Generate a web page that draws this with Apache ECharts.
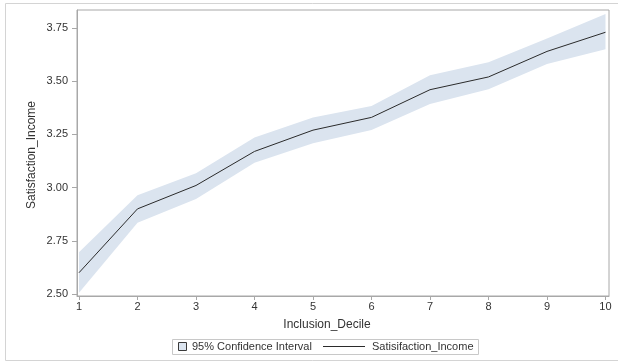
<!DOCTYPE html>
<html>
<head>
<meta charset="utf-8">
<script src="https://cdn.jsdelivr.net/npm/echarts@6/dist/echarts.min.js"></script>
<style>
  html, body { margin: 0; padding: 0; background: #fff; }
  #chart { width: 618px; height: 364px; }
</style>
</head>
<body>
<div id="chart"></div>
<script>
// Inclusion decile vs. mean income satisfaction with 95% confidence band
const deciles = [1, 2, 3, 4, 5, 6, 7, 8, 9, 10];
const satisfaction = [2.60, 2.90, 3.01, 3.17, 3.27, 3.33, 3.46, 3.52, 3.64, 3.73];
const ciLower = [2.506, 2.835, 2.946, 3.117, 3.208, 3.271, 3.393, 3.462, 3.581, 3.650];
const ciUpper = [2.696, 2.964, 3.067, 3.236, 3.330, 3.383, 3.528, 3.589, 3.701, 3.816];
const yTicks = [2.50, 2.75, 3.00, 3.25, 3.50, 3.75];
const xTicks = [1, 2, 3, 4, 5, 6, 7, 8, 9, 10];

const FONT = 'Liberation Sans, Arial, sans-serif';
const BAND = '#dbe4ef';
const FRAME = '#a8a8a8';
const TEXT = '#333333';

const bandData = deciles.map((d, i) => [d, ciLower[i], ciUpper[i]]);
const linePts = deciles.map((d, i) => [d, satisfaction[i]]);

// Confidence band: one polygon running along the upper bounds and back along the lower bounds
function renderBand(params, api) {
  if (params.dataIndex !== 0) return null;
  const upper = bandData.map(p => api.coord([p[0], p[2]]));
  const lower = bandData.map(p => api.coord([p[0], p[1]])).reverse();
  return {
    type: 'polygon',
    shape: { points: upper.concat(lower) },
    style: { fill: BAND, stroke: 'none' }
  };
}

const chart = echarts.init(document.getElementById('chart'), null, { renderer: 'canvas' });

chart.setOption({
  animation: false,
  backgroundColor: '#ffffff',
  grid: {
    left: 77, top: 10, right: 9, bottom: 68,
    show: true, borderColor: FRAME, borderWidth: 1, backgroundColor: 'transparent'
  },
  xAxis: {
    type: 'value',
    min: 0.966, max: 10.06,
    axisLine: { show: true, lineStyle: { color: FRAME } },
    axisTick: { show: true, length: 4, lineStyle: { color: FRAME }, customValues: xTicks },
    axisLabel: {
      color: TEXT, fontFamily: FONT, fontSize: 11, margin: 5,
      customValues: xTicks, formatter: v => String(v)
    },
    splitLine: { show: false }
  },
  yAxis: {
    type: 'value',
    min: 2.4906, max: 3.8346,
    axisLine: { show: true, lineStyle: { color: FRAME } },
    axisTick: { show: true, length: 5, lineStyle: { color: FRAME }, customValues: yTicks },
    axisLabel: {
      color: TEXT, fontFamily: FONT, fontSize: 11, margin: 9,
      customValues: yTicks, formatter: v => v.toFixed(2)
    },
    splitLine: { show: false }
  },
  series: [
    {
      name: '95% Confidence Interval', type: 'custom', data: bandData,
      encode: { x: 0, y: [1, 2] },
      renderItem: renderBand, clip: true, silent: true, z: 1
    },
    {
      name: 'Satisifaction_Income', type: 'line', data: linePts,
      symbol: 'none', lineStyle: { color: '#2b2b2b', width: 1 }, z: 5
    }
  ],
  graphic: [
    // outer panel border
    { type: 'rect', shape: { x: 5.5, y: 3.5, width: 640, height: 357 },
      style: { fill: 'none', stroke: '#d4d4d4', lineWidth: 1 }, silent: true },
    // axis titles
    { type: 'text', x: 327, y: 325,
      style: { text: 'Inclusion_Decile', font: '12px ' + FONT, fill: TEXT, align: 'center', verticalAlign: 'middle' } },
    { type: 'text', x: 32, y: 155, rotation: Math.PI / 2,
      style: { text: 'Satisfaction_Income', font: '12px ' + FONT, fill: TEXT, align: 'center', verticalAlign: 'middle' } },
    // legend
    { type: 'rect', shape: { x: 172.5, y: 339.5, width: 306, height: 15 },
      style: { fill: '#fff', stroke: '#c8c8c8', lineWidth: 1 } },
    { type: 'rect', shape: { x: 178.5, y: 342.5, width: 8, height: 8 },
      style: { fill: BAND, stroke: '#3a3a3a', lineWidth: 1 } },
    { type: 'text', x: 192, y: 347,
      style: { text: '95% Confidence Interval', font: '11px ' + FONT, fill: TEXT, verticalAlign: 'middle' } },
    { type: 'line', shape: { x1: 323, y1: 346.5, x2: 365, y2: 346.5 },
      style: { stroke: '#2b2b2b', lineWidth: 1 } },
    { type: 'text', x: 372, y: 347,
      style: { text: 'Satisifaction_Income', font: '11px ' + FONT, fill: TEXT, verticalAlign: 'middle' } }
  ]
});
</script>
</body>
</html>
